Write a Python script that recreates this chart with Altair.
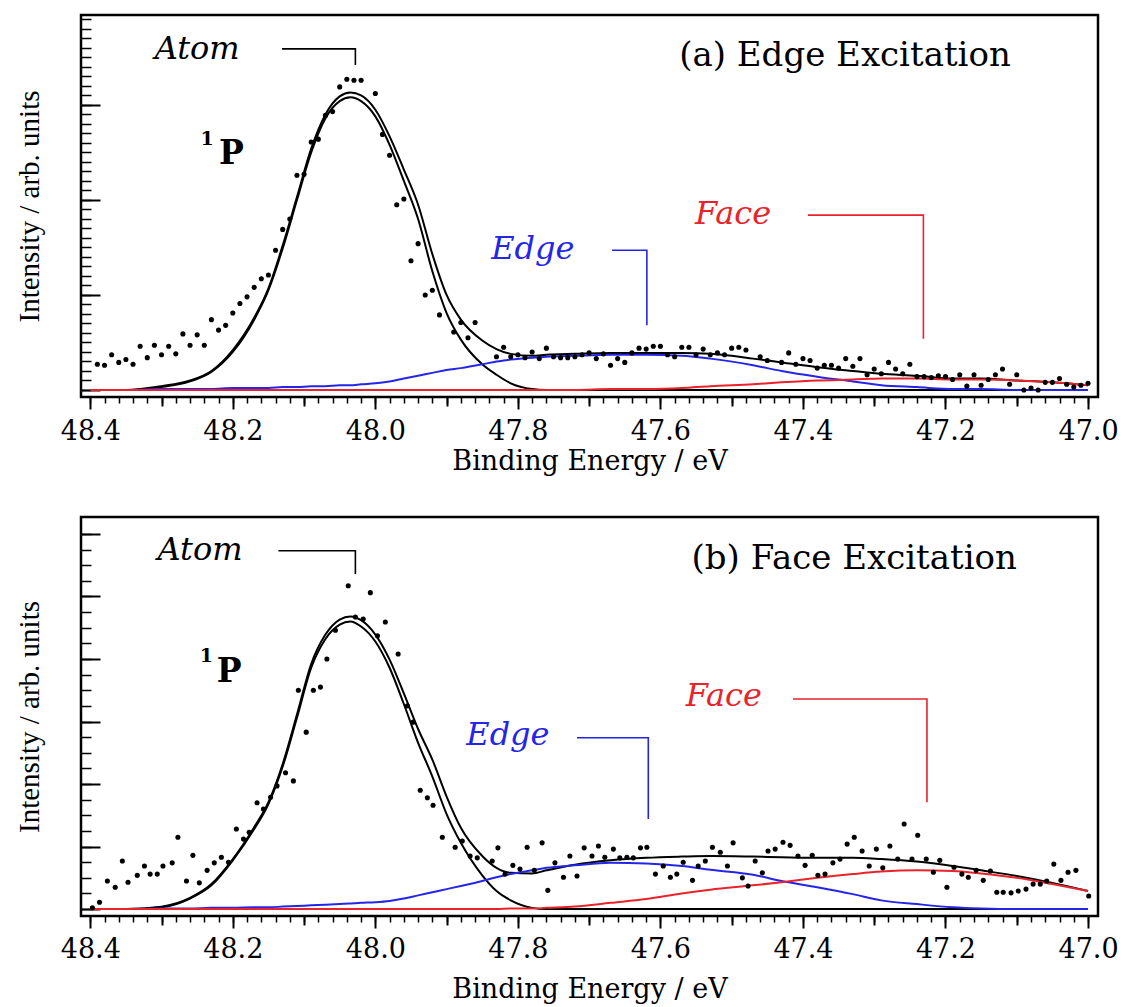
import altair as alt
import pandas as pd
import numpy as np

FONT = "DejaVu Serif"
BLUE = "#2525e8"
RED = "#e8232b"

# ---------------- axis tick values ----------------
X_MAJOR = [48.4, 48.2, 48.0, 47.8, 47.6, 47.4, 47.2, 47.0]
X_MID = [48.3, 48.1, 47.9, 47.7, 47.5, 47.3, 47.1]
X_MINOR = [round(48.4 - 0.02 * k, 2) for k in range(71)]
XDOM = [48.413, 46.986]

# ---------------- panel (a) measured points ----------------
A_E = [48.39, 48.38, 48.37, 48.36, 48.35, 48.34, 48.33, 48.32, 48.31, 48.30,
       48.29, 48.28, 48.27, 48.26, 48.25, 48.24, 48.23, 48.22, 48.21, 48.20,
       48.19, 48.18, 48.17, 48.16, 48.15, 48.14, 48.13, 48.12, 48.11, 48.10,
       48.09, 48.08, 48.07, 48.06, 48.05, 48.04, 48.03, 48.02, 48.00, 47.99,
       47.98, 47.97, 47.96, 47.95, 47.94, 47.93, 47.92, 47.91, 47.89, 47.88,
       47.87, 47.86, 47.83, 47.82, 47.81, 47.80, 47.79, 47.78, 47.77, 47.76,
       47.75, 47.74, 47.73, 47.72, 47.71, 47.70, 47.69, 47.68, 47.67, 47.66,
       47.65, 47.64, 47.63, 47.62, 47.61, 47.60, 47.59, 47.58, 47.57, 47.56,
       47.55, 47.54, 47.53, 47.52, 47.51, 47.50, 47.49, 47.48, 47.46, 47.45,
       47.43, 47.42, 47.41, 47.40, 47.39, 47.38, 47.37, 47.36, 47.35, 47.34,
       47.33, 47.32, 47.31, 47.30, 47.29, 47.28, 47.27, 47.26, 47.25, 47.24,
       47.23, 47.22, 47.21, 47.20, 47.19, 47.18, 47.17, 47.16, 47.15, 47.14,
       47.13, 47.12, 47.11, 47.10, 47.09, 47.08, 47.07, 47.06, 47.05, 47.04,
       47.03, 47.02, 47.01, 47.00]
A_I = [0.27, 0.26, 0.37, 0.29, 0.32, 0.27, 0.46, 0.34, 0.47, 0.37,
       0.46, 0.38, 0.59, 0.47, 0.58, 0.47, 0.74, 0.63, 0.68, 0.81,
       0.91, 0.98, 1.08, 1.17, 1.21, 1.47, 1.69, 1.80, 2.26, 2.27,
       2.61, 2.64, 2.89, 2.93, 3.19, 3.27, 3.26, 3.26, 3.12, 2.69,
       2.47, 1.95, 2.01, 1.36, 1.54, 1.00, 1.05, 0.79, 0.61, 0.71,
       0.55, 0.71, 0.35, 0.45, 0.35, 0.37, 0.34, 0.40, 0.33, 0.44,
       0.35, 0.34, 0.34, 0.35, 0.37, 0.39, 0.33, 0.38, 0.26, 0.33,
       0.29, 0.39, 0.44, 0.43, 0.46, 0.46, 0.37, 0.35, 0.45, 0.45,
       0.37, 0.43, 0.37, 0.39, 0.37, 0.44, 0.45, 0.42, 0.35, 0.31,
       0.29, 0.39, 0.27, 0.33, 0.31, 0.23, 0.26, 0.26, 0.23, 0.33,
       0.25, 0.33, 0.16, 0.22, 0.17, 0.29, 0.22, 0.17, 0.27, 0.14,
       0.14, 0.13, 0.15, 0.14, 0.11, 0.16, 0.04, 0.16, 0.05, 0.11,
       0.16, 0.22, 0.06, 0.16, 0.00, 0.02, 0.00, 0.08, 0.08, 0.12,
       0.06, 0.03, 0.05, 0.07]

# ---------------- fitted curves (shared energy grid) ----------------
FIT_E = [48.40, 48.35, 48.30, 48.26, 48.23, 48.20, 48.17, 48.15, 48.13, 48.11,
         48.09, 48.07, 48.05, 48.035, 48.02, 48.00, 47.98, 47.96, 47.94, 47.92,
         47.90, 47.88, 47.85, 47.83, 47.81, 47.78, 47.76, 47.72, 47.67, 47.62,
         47.57, 47.53, 47.47, 47.43, 47.38, 47.33, 47.29, 47.24, 47.19, 47.15,
         47.10, 47.05, 47.00]

A_ATOM = [0.00, 0.00, 0.03, 0.09, 0.19, 0.40, 0.74, 1.05, 1.49, 2.00,
          2.50, 2.86, 3.04, 3.08, 3.04, 2.88, 2.58, 2.20, 1.80, 1.25,
          0.81, 0.53, 0.27, 0.16, 0.07, 0.01, 0.00, 0.00, 0.00, 0.00,
          0.00, 0.00, 0.00, 0.00, 0.00, 0.00, 0.00, 0.00, 0.00, 0.00,
          0.00, 0.00, 0.00]
A_TOTAL = [0.00, 0.00, 0.04, 0.10, 0.20, 0.42, 0.76, 1.07, 1.52, 2.03,
           2.54, 2.90, 3.09, 3.13, 3.10, 2.95, 2.67, 2.32, 1.95, 1.43,
           1.00, 0.74, 0.52, 0.43, 0.38, 0.36, 0.37, 0.38, 0.39, 0.39,
           0.39, 0.38, 0.33, 0.29, 0.24, 0.20, 0.17, 0.15, 0.12, 0.12,
           0.10, 0.08, 0.05]
A_EDGE = [0.00, 0.00, 0.01, 0.01, 0.01, 0.02, 0.02, 0.02, 0.03, 0.03,
          0.04, 0.04, 0.05, 0.05, 0.06, 0.07, 0.09, 0.12, 0.15, 0.18,
          0.21, 0.23, 0.27, 0.30, 0.32, 0.34, 0.35, 0.36, 0.37, 0.37,
          0.36, 0.33, 0.26, 0.20, 0.14, 0.09, 0.05, 0.03, 0.01, 0.01,
          0.00, 0.00, 0.00]
A_FACE = [0.00, 0.00, 0.00, 0.00, 0.00, 0.00, 0.00, 0.00, 0.00, 0.00,
          0.00, 0.00, 0.00, 0.00, 0.00, 0.00, 0.00, 0.00, 0.00, 0.00,
          0.00, 0.00, 0.00, 0.00, 0.00, 0.00, 0.00, 0.00, 0.01, 0.01,
          0.02, 0.04, 0.06, 0.08, 0.10, 0.11, 0.12, 0.12, 0.11, 0.11,
          0.10, 0.08, 0.05]

# ---------------- panel (b) measured points ----------------
B_E = [48.397, 48.387, 48.376, 48.365, 48.355, 48.347, 48.334, 48.324, 48.316, 48.306,
       48.298, 48.285, 48.277, 48.265, 48.256, 48.247, 48.236, 48.226, 48.216, 48.206,
       48.195, 48.185, 48.177, 48.166, 48.157, 48.147, 48.138, 48.126, 48.115, 48.108,
       48.097, 48.087, 48.077, 48.068, 48.056, 48.038, 48.028, 48.017, 48.007, 47.997,
       47.986, 47.968, 47.955, 47.947, 47.937, 47.927, 47.919, 47.906, 47.888, 47.878,
       47.867, 47.857, 47.836, 47.828, 47.818, 47.807, 47.797, 47.787, 47.777, 47.766,
       47.758, 47.748, 47.736, 47.727, 47.717, 47.707, 47.696, 47.687, 47.678, 47.666,
       47.657, 47.647, 47.638, 47.628, 47.619, 47.607, 47.596, 47.586, 47.577, 47.568,
       47.555, 47.547, 47.537, 47.527, 47.516, 47.506, 47.498, 47.485, 47.477, 47.467,
       47.457, 47.449, 47.439, 47.428, 47.418, 47.407, 47.397, 47.387, 47.379, 47.369,
       47.358, 47.348, 47.338, 47.328, 47.317, 47.307, 47.297, 47.288, 47.278, 47.267,
       47.258, 47.247, 47.239, 47.227, 47.217, 47.208, 47.198, 47.188, 47.177, 47.168,
       47.157, 47.147, 47.137, 47.128, 47.119, 47.108, 47.098, 47.087, 47.077, 47.067,
       47.058, 47.048, 47.038, 47.028, 47.017, 46.999]
B_I = [0.02, 0.11, 0.45, 0.35, 0.77, 0.43, 0.54, 0.69, 0.56, 0.56,
       0.69, 0.74, 1.15, 0.45, 0.86, 0.42, 0.62, 0.74, 0.83, 0.75,
       1.28, 1.12, 1.23, 1.70, 1.60, 1.79, 1.97, 2.18, 2.05, 3.50,
       2.83, 3.50, 3.55, 4.00, 4.46, 5.17, 4.67, 4.64, 5.06, 4.37,
       4.59, 4.08, 3.25, 2.99, 1.90, 1.78, 1.66, 1.15, 0.99, 1.09,
       0.85, 0.82, 0.77, 0.98, 0.56, 0.70, 0.64, 0.99, 0.62, 1.06,
       0.30, 0.74, 0.51, 0.85, 0.53, 0.98, 0.85, 1.01, 0.83, 0.96,
       0.82, 0.83, 0.82, 0.98, 0.99, 0.56, 0.69, 0.51, 0.56, 0.75,
       0.46, 0.69, 0.77, 0.99, 0.91, 0.69, 1.06, 0.50, 0.37, 0.77,
       0.58, 0.93, 0.96, 1.07, 1.02, 0.85, 0.70, 0.86, 0.54, 0.56,
       0.74, 0.80, 1.04, 1.15, 0.93, 0.69, 0.96, 0.66, 1.01, 0.80,
       1.36, 0.80, 1.18, 0.80, 0.59, 0.78, 0.35, 0.67, 0.56, 0.51,
       0.62, 0.46, 0.61, 0.27, 0.27, 0.26, 0.29, 0.32, 0.40, 0.40,
       0.45, 0.72, 0.46, 0.59, 0.62, 0.21]

B_ATOM = [0.00, 0.00, 0.03, 0.17, 0.38, 0.78, 1.28, 1.68, 2.28, 3.06,
          3.86, 4.32, 4.55, 4.60, 4.52, 4.28, 3.86, 3.28, 2.66, 2.12,
          1.52, 1.06, 0.54, 0.29, 0.14, 0.02, 0.00, 0.00, 0.00, 0.00,
          0.00, 0.00, 0.00, 0.00, 0.00, 0.00, 0.00, 0.00, 0.00, 0.00,
          0.00, 0.00, 0.00]
B_TOTAL = [0.00, 0.00, 0.04, 0.18, 0.40, 0.80, 1.31, 1.71, 2.32, 3.11,
           3.92, 4.39, 4.63, 4.68, 4.62, 4.39, 3.99, 3.45, 2.88, 2.39,
           1.80, 1.30, 0.85, 0.66, 0.58, 0.57, 0.62, 0.71, 0.78, 0.82,
           0.84, 0.85, 0.84, 0.83, 0.82, 0.82, 0.80, 0.76, 0.69, 0.62,
           0.53, 0.42, 0.29]
B_EDGE = [0.00, 0.00, 0.01, 0.01, 0.02, 0.02, 0.03, 0.03, 0.04, 0.05,
          0.06, 0.07, 0.08, 0.09, 0.10, 0.11, 0.13, 0.17, 0.22, 0.27,
          0.32, 0.37, 0.45, 0.51, 0.56, 0.62, 0.66, 0.70, 0.74, 0.73,
          0.69, 0.63, 0.55, 0.45, 0.35, 0.24, 0.14, 0.08, 0.03, 0.01,
          0.00, 0.00, 0.00]
B_FACE = [0.00, 0.00, 0.00, 0.00, 0.00, 0.00, 0.00, 0.00, 0.00, 0.00,
          0.00, 0.00, 0.00, 0.00, 0.00, 0.00, 0.00, 0.00, 0.00, 0.00,
          0.00, 0.00, 0.00, 0.00, 0.01, 0.01, 0.02, 0.04, 0.10, 0.16,
          0.25, 0.31, 0.38, 0.43, 0.50, 0.56, 0.60, 0.62, 0.61, 0.57,
          0.50, 0.40, 0.29]

# ---------------- annotations ----------------
A_LABEL = "(a) Edge Excitation"
B_LABEL = "(b) Face Excitation"
NAMES = ["Atom", "Edge", "Face"]
A_BRK_X0 = [48.131, 47.668, 47.393]
A_BRK_X1 = [48.028, 47.619, 47.231]
A_BRK_Y0 = [3.59, 1.47, 1.84]
A_BRK_Y1 = [3.42, 0.68, 0.54]
A_TXT_X = [48.250, 47.779, 47.498]
A_TXT_Y = [3.59, 1.48, 1.85]
B_BRK_X0 = [48.136, 47.717, 47.414]
B_BRK_X1 = [48.028, 47.617, 47.226]
B_BRK_Y0 = [5.73, 2.74, 3.36]
B_BRK_Y1 = [5.36, 1.44, 1.71]
B_TXT_X = [48.246, 47.814, 47.511]
B_TXT_Y = [5.74, 2.78, 3.41]


def panel(pe, pi, atom, total, edge, face, label, lab_xy, brk, txt, p_xy, one_xy,
          ydom, ymajor, yminor, height, lab_pad, title_pad):
    xs = alt.Scale(domain=XDOM, nice=False, zero=False)
    ys = alt.Scale(domain=ydom, nice=False, zero=False)

    pts = pd.DataFrame({"e": pe, "i": pi})
    rows = []
    for name, vals in [("atom", atom), ("total", total), ("edge", edge), ("face", face)]:
        for e, v in zip(FIT_E, vals):
            rows.append({"e": e, "i": v, "c": name})
    fits = pd.DataFrame(rows)

    x0, x1, y0, y1 = brk
    brows = []
    for k, n in enumerate(NAMES):
        brows += [{"e": x0[k], "i": y0[k], "g": n, "o": 0},
                  {"e": x1[k], "i": y0[k], "g": n, "o": 1},
                  {"e": x1[k], "i": y1[k], "g": n, "o": 2}]
    brk_df = pd.DataFrame(brows)
    tx, ty = txt
    txt_df = pd.DataFrame({"e": tx, "i": ty, "g": NAMES})
    color3 = alt.Scale(domain=NAMES, range=["black", BLUE, RED])

    none_axis_x = alt.X("e:Q", scale=xs, axis=None)
    none_axis_y = alt.Y("i:Q", scale=ys, axis=None)

    fit_layer = alt.Chart(fits).mark_line(interpolate="monotone").encode(
        x=alt.X("e:Q", scale=xs, title=None,
                axis=alt.Axis(orient="bottom", values=X_MID, tickSize=9, tickWidth=2,
                              tickColor="black", labels=False, domain=False, grid=False)),
        y=alt.Y("i:Q", scale=ys, title=None,
                axis=alt.Axis(orient="left", values=yminor, tickSize=10, offset=-10,
                              tickWidth=1.5, tickColor="black", labels=False,
                              domain=False, grid=False)),
        color=alt.Color("c:N", legend=None,
                        scale=alt.Scale(domain=["atom", "total", "edge", "face"],
                                        range=["black", "black", BLUE, RED])),
        strokeWidth=alt.StrokeWidth("c:N", legend=None,
                                    scale=alt.Scale(domain=["atom", "total", "edge", "face"],
                                                    range=[2, 2, 1.8, 1.8])),
    )

    pt_layer = alt.Chart(pts).mark_circle(size=26, color="black", opacity=1).encode(
        x=alt.X("e:Q", scale=xs, title="Binding Energy / eV",
                axis=alt.Axis(orient="bottom", values=X_MAJOR, format=".1f", tickSize=12,
                              tickWidth=2, tickColor="black", domain=False, grid=False,
                              labelFont=FONT, labelFontSize=27, labelColor="black",
                              labelPadding=lab_pad, labelFlush=False, labelOverlap=False,
                              titleFont=FONT, titleFontSize=27, titleFontWeight="normal",
                              titleColor="black", titlePadding=title_pad)),
        y=alt.Y("i:Q", scale=ys, title="Intensity / arb. units",
                axis=alt.Axis(orient="left", values=ymajor, tickSize=19, offset=-19,
                              tickWidth=2, tickColor="black", labels=False, domain=False,
                              grid=False, titleFont="Liberation Serif", titleFontSize=29,
                              titleFontWeight="normal", titleColor="black",
                              titlePadding=36)),
    )

    brk_layer = alt.Chart(brk_df).mark_line(strokeWidth=1.6).encode(
        x=alt.X("e:Q", scale=xs, title=None,
                axis=alt.Axis(orient="bottom", values=X_MINOR, tickSize=6, tickWidth=1.5,
                              tickColor="black", labels=False, domain=False, grid=False)),
        y=none_axis_y,
        order=alt.Order("o:Q"),
        detail="g:N",
        color=alt.Color("g:N", scale=color3, legend=None),
    )

    name_layer = alt.Chart(txt_df).mark_text(
        font=FONT, fontSize=32, fontStyle="italic", align="center", baseline="middle"
    ).encode(x=none_axis_x, y=none_axis_y, text="g:N",
             color=alt.Color("g:N", scale=color3, legend=None))

    lab_df = pd.DataFrame({"e": [lab_xy[0]], "i": [lab_xy[1]], "t": [label]})
    lab_layer = alt.Chart(lab_df).mark_text(
        font=FONT, fontSize=34, align="center", baseline="middle", color="black"
    ).encode(x=none_axis_x, y=none_axis_y, text="t:N")

    p_df = pd.DataFrame({"e": [p_xy[0]], "i": [p_xy[1]], "t": ["P"]})
    p_layer = alt.Chart(p_df).mark_text(
        font=FONT, fontSize=33, fontWeight="bold", align="center", baseline="middle",
        color="black").encode(x=none_axis_x, y=none_axis_y, text="t:N")
    one_df = pd.DataFrame({"e": [one_xy[0]], "i": [one_xy[1]], "t": ["1"]})
    one_layer = alt.Chart(one_df).mark_text(
        font=FONT, fontSize=19, fontWeight="bold", align="center", baseline="middle",
        color="black").encode(x=none_axis_x, y=none_axis_y, text="t:N")

    return alt.layer(fit_layer, pt_layer, brk_layer, name_layer, lab_layer,
                     p_layer, one_layer).resolve_axis(
        x="independent", y="independent"
    ).resolve_scale(color="independent", strokeWidth="independent"
    ).properties(width=1017, height=height)


A_YMAJOR = [0, 1, 2, 3]
A_YMINOR = [round(0.1 * k, 1) for k in range(40)]
B_YMAJOR = [0, 1, 2, 3, 4, 5, 6]
B_YMINOR = [round(0.25 * k, 2) for k in range(25)]

pa = panel(A_E, A_I, A_ATOM, A_TOTAL, A_EDGE, A_FACE, A_LABEL, (47.341, 3.52),
           (A_BRK_X0, A_BRK_X1, A_BRK_Y0, A_BRK_Y1), (A_TXT_X, A_TXT_Y),
           (48.202, 2.48), (48.236, 2.64), [-0.074, 3.947], A_YMAJOR, A_YMINOR, 382,
           9, 4)
pb = panel(B_E, B_I, B_ATOM, B_TOTAL, B_EDGE, B_FACE, B_LABEL, (47.328, 5.60),
           (B_BRK_X0, B_BRK_X1, B_BRK_Y0, B_BRK_Y1), (B_TXT_X, B_TXT_Y),
           (48.205, 3.79), (48.237, 4.05), [-0.11, 6.27], B_YMAJOR, B_YMINOR, 399,
           8, 14)

chart = alt.vconcat(pa, pb, spacing=39).properties(
    padding={"left": 13, "top": 13, "right": 5, "bottom": 2}
).configure_view(stroke="black", strokeWidth=2.5)

chart.save("out.html", embed_options={"renderer": "svg", "actions": False})
